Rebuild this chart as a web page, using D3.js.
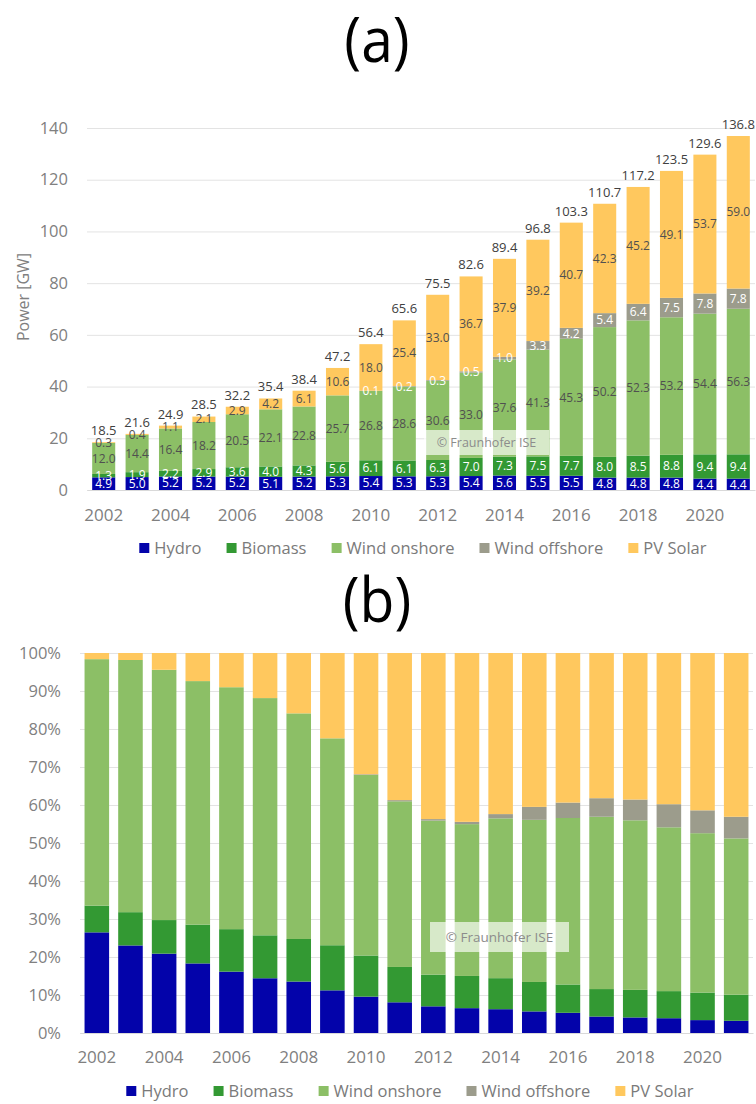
<!DOCTYPE html>
<html>
<head>
<meta charset="utf-8">
<script src="https://cdn.jsdelivr.net/npm/d3@7"></script>
<style>
  body { margin: 0; background: #fff; font-family: "Open Sans", sans-serif; }
  .tick line { stroke: #e3e3e3; }
  .tick text { fill: #808080; }
</style>
</head>
<body>
<div class="chart"></div>
<script>
// installed capacity, Germany [GW]
var years = [2002, 2003, 2004, 2005, 2006, 2007, 2008, 2009, 2010, 2011,
             2012, 2013, 2014, 2015, 2016, 2017, 2018, 2019, 2020, 2021];
var hydro = [4.9, 5.0, 5.2, 5.2, 5.2, 5.1, 5.2, 5.3, 5.4, 5.3,
             5.3, 5.4, 5.6, 5.5, 5.5, 4.8, 4.8, 4.8, 4.4, 4.4];
var biomass = [1.3, 1.9, 2.2, 2.9, 3.6, 4.0, 4.3, 5.6, 6.1, 6.1,
               6.3, 7.0, 7.3, 7.5, 7.7, 8.0, 8.5, 8.8, 9.4, 9.4];
var windOnshore = [12.0, 14.4, 16.4, 18.2, 20.5, 22.1, 22.8, 25.7, 26.8, 28.6,
                   30.6, 33.0, 37.6, 41.3, 45.3, 50.2, 52.3, 53.2, 54.4, 56.3];
var windOffshore = [0, 0, 0, 0, 0, 0, 0, 0, 0.1, 0.2,
                    0.3, 0.5, 1.0, 3.3, 4.2, 5.4, 6.4, 7.5, 7.8, 7.8];
var pvSolar = [0.3, 0.4, 1.1, 2.1, 2.9, 4.2, 6.1, 10.6, 18.0, 25.4,
               33.0, 36.7, 37.9, 39.2, 40.7, 42.3, 45.2, 49.1, 53.7, 59.0];
var totals = [18.5, 21.6, 24.9, 28.5, 32.2, 35.4, 38.4, 47.2, 56.4, 65.6,
              75.5, 82.6, 89.4, 96.8, 103.3, 110.7, 117.2, 123.5, 129.6, 136.8];

var seriesNames = ["Hydro", "Biomass", "Wind onshore", "Wind offshore", "PV Solar"];
var seriesKeys = ["hydro", "biomass", "windOnshore", "windOffshore", "pvSolar"];
var colors = ["#0303aa", "#339933", "#8cbf66", "#9c9c8c", "#ffc85e"];
var labelColors = ["#ffffff", "#ffffff", "#505050", "#ffffff", "#505050"];
var yTicksA = [0, 20, 40, 60, 80, 100, 120, 140];
var xTickYears = [2002, 2004, 2006, 2008, 2010, 2012, 2014, 2016, 2018, 2020];

// rows for d3.stack
var rows = years.map(function(yr, i) {
  return { year: yr, hydro: hydro[i], biomass: biomass[i], windOnshore: windOnshore[i],
           windOffshore: windOffshore[i], pvSolar: pvSolar[i] };
});

var svg = d3.select(".chart").append("svg")
  .attr("width", 756)
  .attr("height", 1104);

// panel titles (slightly narrowed, the original face is more condensed)
svg.append("text").attr("transform", "translate(377, 62) scale(0.92, 1)")
  .attr("text-anchor", "middle").attr("font-size", 62).attr("fill", "#000")
  .text("(a)");
svg.append("text").attr("transform", "translate(377, 622) scale(0.92, 1)")
  .attr("text-anchor", "middle").attr("font-size", 62).attr("fill", "#000")
  .text("(b)");

function drawLegend(cy, cx) {
  var g = svg.append("g");
  var items = g.selectAll("g").data(seriesNames).enter().append("g");
  items.append("rect").attr("width", 10).attr("height", 10).attr("y", cy - 5)
    .attr("fill", (d, i) => colors[i]);
  items.append("text").attr("x", 15).attr("y", cy).attr("dy", "0.35em")
    .attr("font-size", 16.5).attr("fill", "#7a7a7a").text(d => d);
  // lay items out side by side
  var xPos = 0;
  items.each(function() {
    var w = this.getBBox().width;
    d3.select(this).attr("transform", `translate(${xPos}, 0)`);
    xPos += w + 25;
  });
  var total = xPos - 25;
  g.attr("transform", `translate(${cx - total / 2}, 0)`);
}

function drawWatermark(x0, y0, w, h, fs) {
  svg.append("rect").attr("x", x0).attr("y", y0).attr("width", w).attr("height", h)
    .attr("fill", "#ffffff").attr("fill-opacity", 0.65);
  svg.append("text").attr("x", x0 + w / 2).attr("y", y0 + h / 2).attr("dy", "0.35em")
    .attr("text-anchor", "middle").attr("font-size", fs).attr("fill", "#8c8c8c")
    .text("\u00a9 Fraunhofer ISE");
}

// ---------------- panel (a): absolute values ----------------
var xA = d3.scaleBand().domain(years).range([87, 755]).paddingInner(0.31).paddingOuter(0.155);
var yA = d3.scaleLinear().domain([0, 140]).range([490, 128]);

var gA = svg.append("g");

gA.append("g")
  .attr("transform", "translate(87, 0)")
  .call(d3.axisLeft(yA).tickValues(yTicksA).tickSizeInner(-668).tickSizeOuter(0).tickPadding(19))
  .call(g => g.select(".domain").remove())
  .selectAll("text").attr("font-size", 16.5).attr("font-family", "Open Sans");

gA.append("text")
  .attr("transform", "rotate(-90)")
  .attr("x", -297).attr("y", 23).attr("dy", "0.35em")
  .attr("text-anchor", "middle").attr("font-size", 16).attr("fill", "#808080")
  .text("Power [GW]");

var stackA = d3.stack().keys(seriesKeys)(rows);

gA.selectAll(".layer").data(stackA).enter().append("g")
  .attr("fill", (d, i) => colors[i])
  .selectAll("rect").data(d => d).enter().append("rect")
  .attr("x", d => xA(d.data.year))
  .attr("width", xA.bandwidth())
  .attr("y", d => yA(d[1]))
  .attr("height", d => yA(d[0]) - yA(d[1]));

gA.append("g")
  .attr("transform", "translate(0, 490)")
  .call(d3.axisBottom(xA).tickValues(xTickYears).tickSize(0).tickPadding(19))
  .call(g => g.select(".domain").attr("stroke", "#d9d9d9"))
  .selectAll("text").attr("font-size", 17).attr("font-family", "Open Sans");

drawWatermark(424, 430, 125, 25, 12.5);

// segment labels
stackA.forEach(function(layer, li) {
  gA.append("g").selectAll("text")
    .data(layer.filter(d => d.data[seriesKeys[li]] > 0))
    .enter().append("text")
    .attr("x", d => xA(d.data.year) + xA.bandwidth() / 2)
    .attr("y", d => yA((d[0] + d[1]) / 2))
    .attr("dy", "0.35em")
    .attr("text-anchor", "middle")
    .attr("font-size", 12)
    .attr("fill", labelColors[li])
    .text(d => d.data[seriesKeys[li]].toFixed(1));
});

// totals on top
gA.append("g").selectAll("text").data(rows).enter().append("text")
  .attr("x", d => xA(d.year) + xA.bandwidth() / 2)
  .attr("y", (d, i) => yA(totals[i]) - 7)
  .attr("text-anchor", "middle")
  .attr("font-size", 13)
  .attr("fill", "#404040")
  .text((d, i) => totals[i].toFixed(1));

drawLegend(548, 423);

// ---------------- panel (b): shares ----------------
var xB = d3.scaleBand().domain(years).range([80, 753]).paddingInner(0.27).paddingOuter(0.135);
var yB = d3.scaleLinear().domain([0, 1]).range([1033, 653]);

var gB = svg.append("g");

gB.append("g")
  .attr("transform", "translate(80, 0)")
  .call(d3.axisLeft(yB).ticks(10).tickFormat(d3.format(".0%")).tickSizeInner(-673).tickSizeOuter(0).tickPadding(19))
  .call(g => g.select(".domain").remove())
  .selectAll("text").attr("font-size", 16.5).attr("font-family", "Open Sans");

var stackB = d3.stack().keys(seriesKeys).offset(d3.stackOffsetExpand)(rows);

gB.selectAll(".layer").data(stackB).enter().append("g")
  .attr("fill", (d, i) => colors[i])
  .selectAll("rect").data(d => d).enter().append("rect")
  .attr("x", d => xB(d.data.year))
  .attr("width", xB.bandwidth())
  .attr("y", d => yB(d[1]))
  .attr("height", d => yB(d[0]) - yB(d[1]));

gB.append("g")
  .attr("transform", "translate(0, 1033)")
  .call(d3.axisBottom(xB).tickValues(xTickYears).tickSize(0).tickPadding(18))
  .call(g => g.select(".domain").attr("stroke", "#d9d9d9"))
  .selectAll("text").attr("font-size", 17).attr("font-family", "Open Sans");

drawWatermark(430, 922, 139, 30, 13.5);

drawLegend(1091, 410);
</script>
</body>
</html>
